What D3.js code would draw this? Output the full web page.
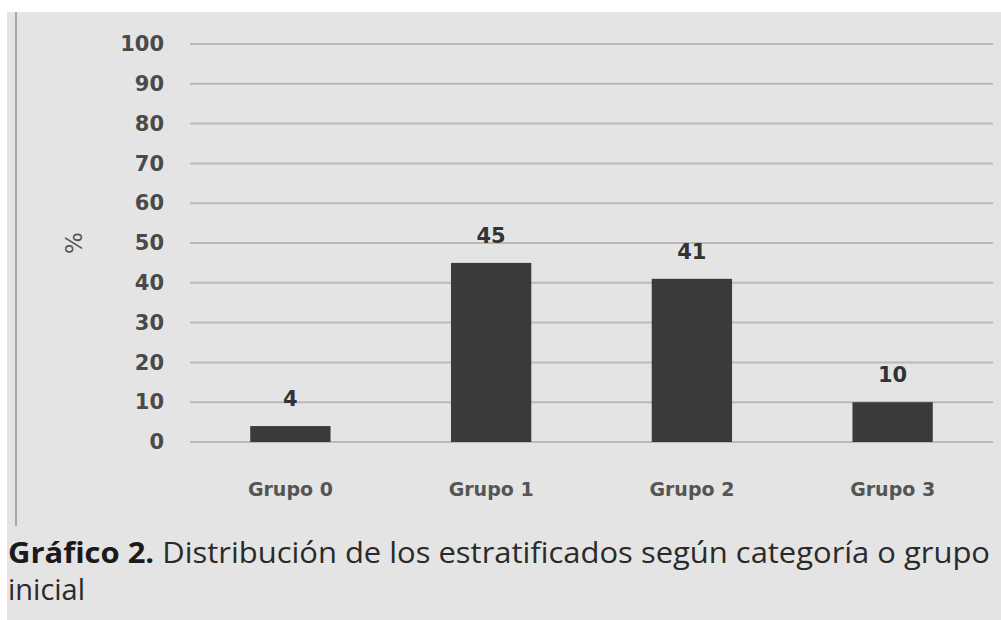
<!DOCTYPE html>
<html>
<head>
<meta charset="utf-8">
<script src="https://cdn.jsdelivr.net/npm/d3@7"></script>
<style>
  body { margin: 0; background: #fff; }
</style>
</head>
<body>
<script>
// data
var categories = ["Grupo 0", "Grupo 1", "Grupo 2", "Grupo 3"];
var values = [4, 45, 41, 10];
var yTicks = [0, 10, 20, 30, 40, 50, 60, 70, 80, 90, 100];

var W = 1001, H = 620;
var svg = d3.select("body").append("svg").attr("width", W).attr("height", H);

// grey panel
svg.append("rect").attr("x", 7).attr("y", 12).attr("width", W - 7).attr("height", H - 12).attr("fill", "#e4e4e4");
svg.append("line").attr("x1", 16).attr("x2", 16).attr("y1", 12).attr("y2", 526)
  .attr("stroke", "#a8a8a8").attr("stroke-width", 2);

var x = d3.scaleBand().domain(categories).range([190, 993]).paddingInner(0.6).paddingOuter(0.3);
var y = d3.scaleLinear().domain([0, 100]).range([442, 44]);

// grid
svg.append("g").selectAll("line").data(yTicks).enter().append("line")
  .attr("x1", 190).attr("x2", 993)
  .attr("y1", d => y(d)).attr("y2", d => y(d))
  .attr("stroke", "#b9b9b9").attr("stroke-width", 2);

// y axis labels
var yAxis = d3.axisLeft(y).tickValues(yTicks).tickSize(0).tickPadding(0);
var ya = svg.append("g").attr("transform", "translate(164,0)").call(yAxis);
ya.select(".domain").remove();
ya.selectAll("text").attr("font-family", "DejaVu Sans").attr("font-weight", "bold")
  .attr("font-size", "21px").attr("fill", "#4a4a4a");

svg.append("text").attr("transform", "translate(82,243) rotate(-90)")
  .attr("text-anchor", "middle").attr("font-family", "DejaVu Sans")
  .attr("font-size", "23px").attr("fill", "#555").text("%");

// bars
svg.append("g").selectAll("rect").data(values).enter().append("rect")
  .attr("x", (d, i) => x(categories[i])).attr("width", x.bandwidth())
  .attr("y", d => y(d)).attr("height", d => y(0) - y(d))
  .attr("fill", "#3a3a3a");

svg.append("g").selectAll("text").data(values).enter().append("text")
  .attr("x", (d, i) => x(categories[i]) + x.bandwidth() / 2)
  .attr("y", d => y(d) - 20)
  .attr("text-anchor", "middle").attr("font-family", "DejaVu Sans").attr("font-weight", "bold")
  .attr("font-size", "21px").attr("fill", "#333").text(d => d);

// category labels
var xAxis = d3.axisBottom(x).tickSize(0).tickPadding(0);
var xa = svg.append("g").attr("transform", "translate(0,482)").call(xAxis);
xa.select(".domain").remove();
xa.selectAll("text").attr("font-family", "DejaVu Sans").attr("font-weight", "bold")
  .attr("font-size", "19px").attr("fill", "#555");

// caption
var cap = svg.append("text").attr("x", 8).attr("y", 563)
  .attr("font-family", "Open Sans").attr("font-size", "29px").attr("fill", "#2a2a2a")
  .attr("textLength", 982).attr("lengthAdjust", "spacingAndGlyphs");
cap.append("tspan").attr("font-weight", "bold").attr("fill", "#1a1a1a").text("Gráfico 2.");
cap.append("tspan").text(" Distribución de los estratificados según categoría o grupo");
svg.append("text").attr("x", 8).attr("y", 600)
  .attr("font-family", "Open Sans").attr("font-size", "29px").attr("fill", "#2a2a2a")
  .attr("textLength", 77).attr("lengthAdjust", "spacingAndGlyphs").text("inicial");
</script>
</body>
</html>
